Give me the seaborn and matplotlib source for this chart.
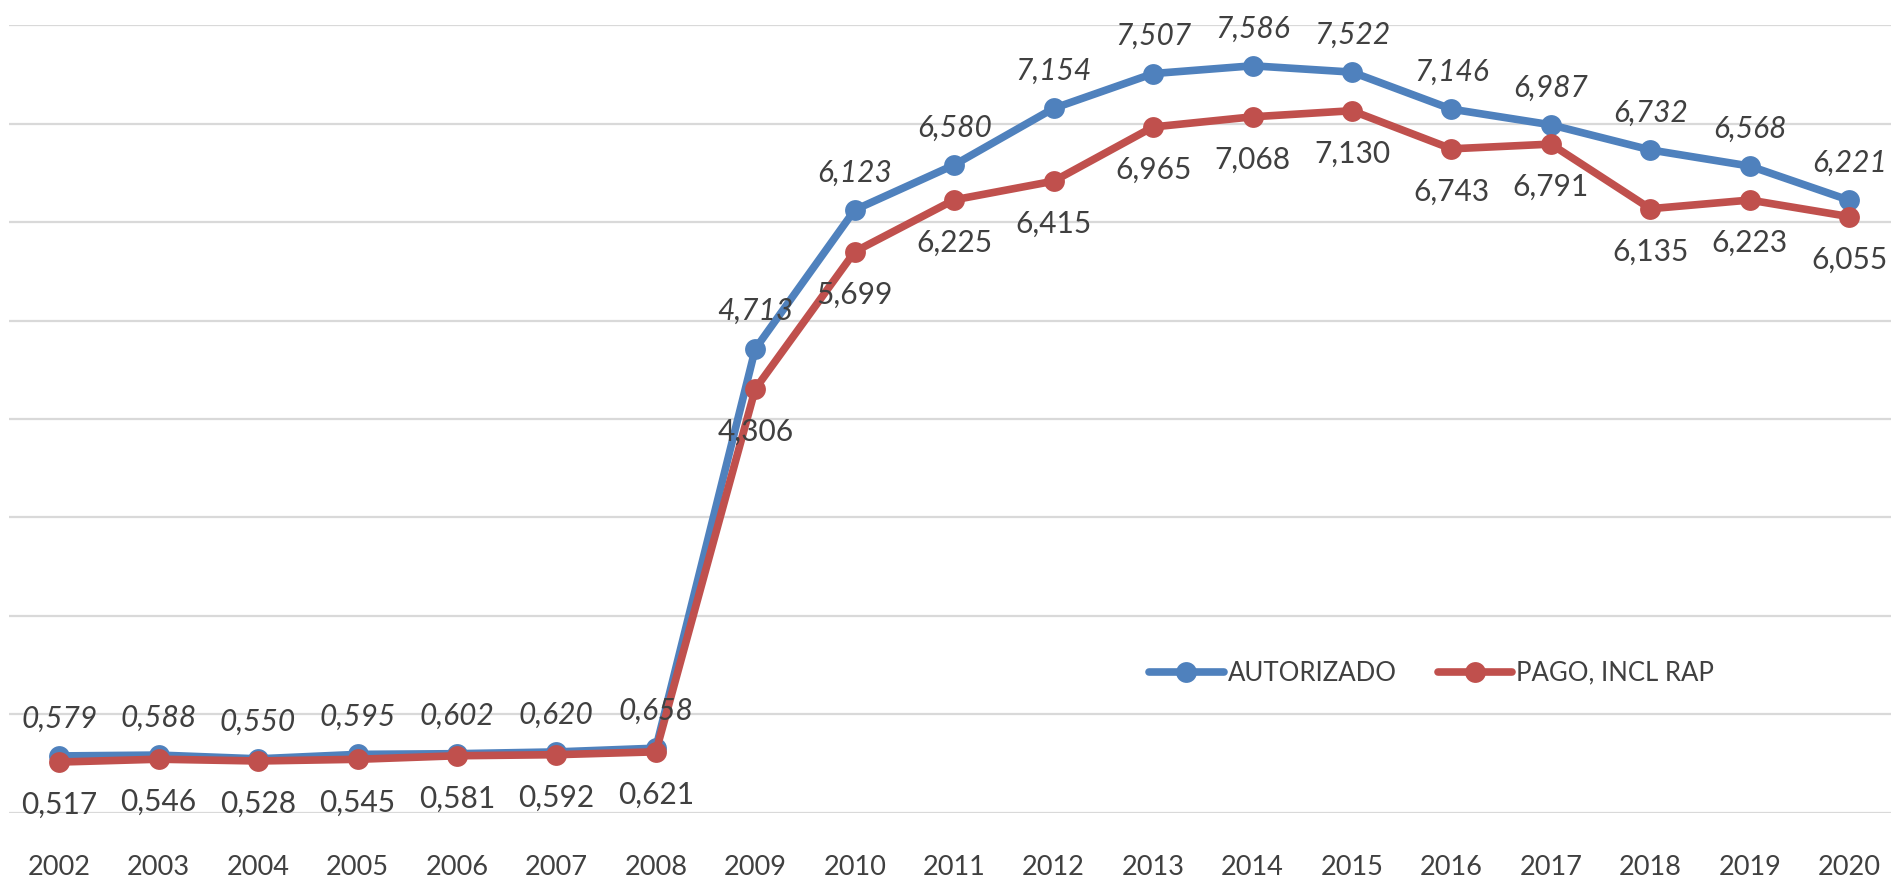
"""
Autorizado vs pago (incl. RAP), 2002-2020
"""

import numpy as np
import pandas as pd
import matplotlib.pyplot as plt
import seaborn as sns

# data
years = list(range(2002, 2021))
autorizado = [0.579, 0.588, 0.550, 0.595, 0.602, 0.620, 0.658, 4.713, 6.123, 6.580,
              7.154, 7.507, 7.586, 7.522, 7.146, 6.987, 6.732, 6.568, 6.221]
pago = [0.517, 0.546, 0.528, 0.545, 0.581, 0.592, 0.621, 4.306, 5.699, 6.225,
        6.415, 6.965, 7.068, 7.130, 6.743, 6.791, 6.135, 6.223, 6.055]
series_names = ['AUTORIZADO', 'PAGO, INCL RAP']
colors = ['#4F81BD', '#C0504D']


def fmt(v):
    return f'{v:.3f}'.replace('.', ',')


def main():
    df = pd.DataFrame({
        'ano': years * 2,
        'valor': autorizado + pago,
        'serie': [series_names[0]] * len(years) + [series_names[1]] * len(years),
    })

    sns.set_style('white')
    plt.rcParams['font.family'] = ['Lato', 'DejaVu Sans']
    text_color = '#404040'

    fig = plt.figure(figsize=(18.91, 8.81), dpi=100)
    ax = fig.add_axes([0.005, 0.0772, 0.995, 0.8944])

    sns.lineplot(data=df, x='ano', y='valor', hue='serie', palette=colors,
                 hue_order=series_names, marker='o', markersize=15,
                 markeredgewidth=0, linewidth=5.5, ax=ax, legend=False)

    ax.set_xlim(2001.5, 2020.42)
    ax.set_ylim(0, 8)
    ax.set_yticks(np.arange(0, 9, 1))
    ax.yaxis.grid(True, color='#D9D9D9', linewidth=1.6)
    ax.set_axisbelow(True)
    ax.set_yticklabels([])
    ax.tick_params(axis='y', length=0)
    ax.set_xticks(years)
    ax.set_xticklabels([str(y) for y in years], fontsize=19.5, color=text_color)
    ax.tick_params(axis='x', length=0, pad=30)
    ax.set_xlabel('')
    ax.set_ylabel('')
    for s in ax.spines.values():
        s.set_visible(False)

    # data labels: blue above (italic), red below
    for x, a, p in zip(years, autorizado, pago):
        ax.annotate(fmt(a), (x, a), xytext=(0, 27), textcoords='offset points',
                    ha='center', va='center', fontsize=21.5, style='italic',
                    color=text_color)
        ax.annotate(fmt(p), (x, p), xytext=(0, -31), textcoords='offset points',
                    ha='center', va='center', fontsize=21.5, color=text_color)

    handles = [plt.Line2D([], [], color=c, linewidth=5.5, marker='o', markersize=15,
                          markeredgewidth=0) for c in colors]
    fig.legend(handles, series_names, loc='center', bbox_to_anchor=(0.757, 0.236),
               ncol=2, frameon=False, fontsize=18.5, handlelength=2.9,
               handletextpad=0.15, columnspacing=1.6, labelcolor=text_color)

    fig.savefig('out.png', dpi=100)


if __name__ == '__main__':
    main()
